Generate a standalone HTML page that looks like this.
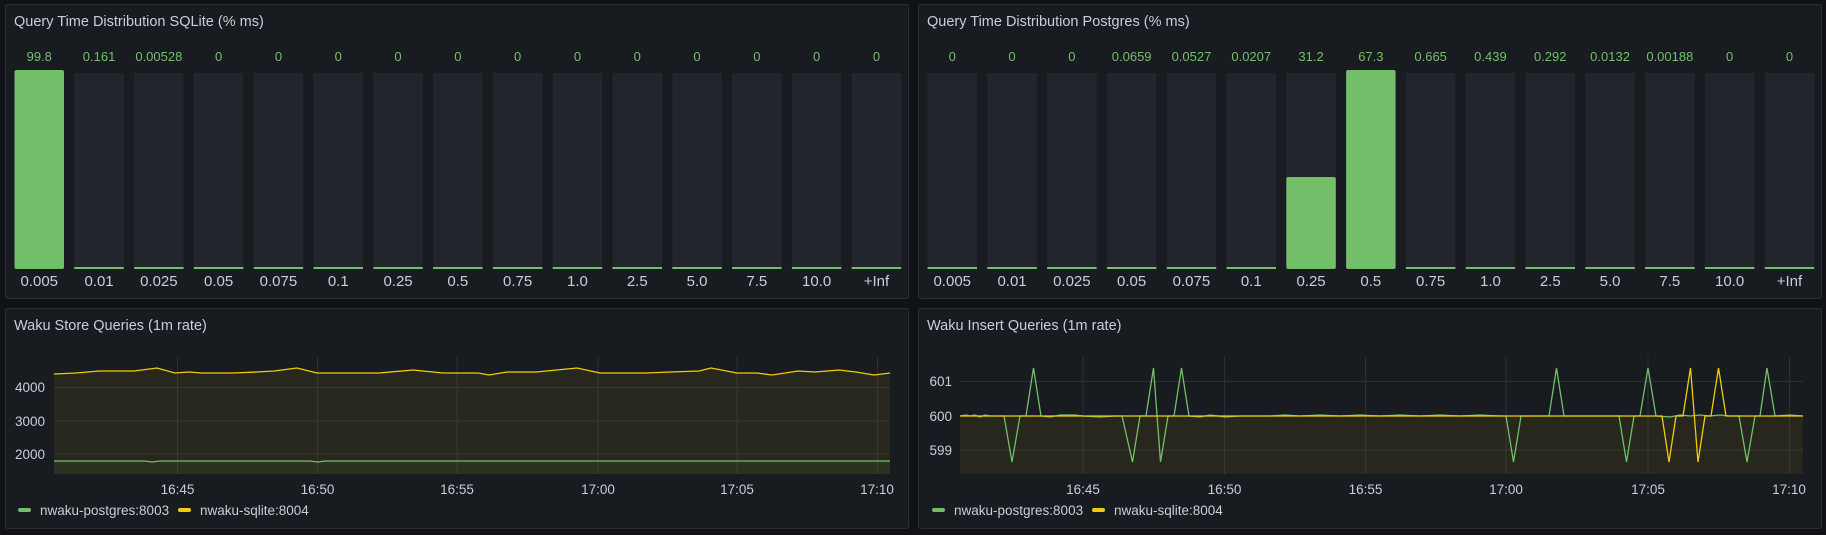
<!DOCTYPE html>
<html><head><meta charset="utf-8"><style>
html,body{margin:0;padding:0;background:#111217;}
svg{display:block;font-family:"Liberation Sans",sans-serif;}
</style></head><body>
<svg width="1826" height="535" viewBox="0 0 1826 535" xmlns="http://www.w3.org/2000/svg">
<rect width="1826" height="535" fill="#111217"/>
<g fill="#181b1f" stroke="#2a2d34" stroke-width="1">
<rect x="5.5" y="4.5" width="903" height="294" rx="2"/>
<rect x="918.5" y="4.5" width="903" height="294" rx="2"/>
<rect x="5.5" y="308.5" width="903" height="220" rx="2"/>
<rect x="918.5" y="308.5" width="903" height="220" rx="2"/>
</g>
<g fill="#ccccdc" font-size="14.5" font-weight="500">
<text x="14" y="26">Query Time Distribution SQLite (% ms)</text>
<text x="927" y="26">Query Time Distribution Postgres (% ms)</text>
<text x="14" y="330">Waku Store Queries (1m rate)</text>
<text x="927" y="330">Waku Insert Queries (1m rate)</text>
</g>
<g id="bars1"></g>
<script>
(function(){
var ns="http://www.w3.org/2000/svg";var svg=document.querySelector('svg');
var labels=["0.005","0.01","0.025","0.05","0.075","0.1","0.25","0.5","0.75","1.0","2.5","5.0","7.5","10.0","+Inf"];
var v1=["99.8","0.161","0.00528","0","0","0","0","0","0","0","0","0","0","0","0"];
var h1=[199,0,0,0,0,0,0,0,0,0,0,0,0,0,0];
var v2=["0","0","0","0.0659","0.0527","0.0207","31.2","67.3","0.665","0.439","0.292","0.0132","0.00188","0","0"];
var h2=[0,0,0,0,0,0,92,199,2,0,0,0,0,0,0];
function el(t,a,txt){var e=document.createElementNS(ns,t);for(var k in a)e.setAttribute(k,a[k]);if(txt!=null)e.textContent=txt;svg.appendChild(e);return e;}
function panel(x0,vals,hs){
for(var i=0;i<15;i++){var x=x0+i*59.8,w=49.5,cx=x+w/2;
el('rect',{x:x,y:73,width:w,height:196,fill:'#22252b'});
if(hs[i]>2){el('rect',{x:x,y:269-hs[i],width:w,height:hs[i],fill:'#73bf69',rx:2});}
else{el('rect',{x:x,y:267,width:w,height:2,fill:'#73bf69'});}
el('text',{x:cx,y:61,'text-anchor':'middle',fill:'#73bf69','font-size':'13'},vals[i]);
el('text',{x:cx,y:286,'text-anchor':'middle',fill:'#ccccdc','font-size':'15'},labels[i]);
}}
panel(14.5,v1,h1);panel(927.5,v2,h2);
})();
</script>
<!-- Panel 3 -->
<g stroke="#2c2f35" stroke-width="1">
<line x1="54" y1="387.5" x2="890" y2="387.5"/><line x1="54" y1="421" x2="890" y2="421"/><line x1="54" y1="454" x2="890" y2="454"/>
<line x1="177.5" y1="357" x2="177.5" y2="474"/><line x1="317.5" y1="357" x2="317.5" y2="474"/><line x1="457" y1="357" x2="457" y2="474"/><line x1="598" y1="357" x2="598" y2="474"/><line x1="737" y1="357" x2="737" y2="474"/><line x1="877.5" y1="357" x2="877.5" y2="474"/>
</g>
<polygon fill="#f2cc0c" fill-opacity="0.07" points="54,374 76,373 99,371 134,371 157,368 175,373 189,372 201,373 233,373 256,372 274,371 297,368 317,373 379,373 413,370 443,373 478,373 489,375 507,372 536,372 577,368 600,373 646,373 670,372 699,371 711,368 737,373 757,373 772,375 798,371 815,372 839,370 856,372 874,375 890,373 890,474 54,474"/>
<polygon fill="#73bf69" fill-opacity="0.07" points="54,461 145,461 152,462 160,461 310,461 318,462 325,461 890,461 890,474 54,474"/>
<polyline fill="none" stroke="#f2cc0c" stroke-width="1.3" points="54,374 76,373 99,371 134,371 157,368 175,373 189,372 201,373 233,373 256,372 274,371 297,368 317,373 379,373 413,370 443,373 478,373 489,375 507,372 536,372 577,368 600,373 646,373 670,372 699,371 711,368 737,373 757,373 772,375 798,371 815,372 839,370 856,372 874,375 890,373"/>
<polyline fill="none" stroke="#73bf69" stroke-width="1.3" points="54,461 145,461 152,462 160,461 310,461 318,462 325,461 890,461"/>
<g fill="#ccccdc" font-size="13.5" text-anchor="end">
<text x="45" y="392">4000</text><text x="45" y="426">3000</text><text x="45" y="459">2000</text>
</g>
<g fill="#ccccdc" font-size="13.5" text-anchor="middle">
<text x="177.5" y="494">16:45</text><text x="317.5" y="494">16:50</text><text x="457" y="494">16:55</text><text x="598" y="494">17:00</text><text x="737" y="494">17:05</text><text x="877" y="494">17:10</text>
</g>
<rect x="18" y="508" width="13" height="4" rx="2" fill="#73bf69"/>
<text x="40" y="515" fill="#ccccdc" font-size="13.5">nwaku-postgres:8003</text>
<rect x="178" y="508" width="13" height="4" rx="2" fill="#f2cc0c"/>
<text x="200" y="515" fill="#ccccdc" font-size="13.5">nwaku-sqlite:8004</text>
<!-- Panel 4 -->
<g stroke="#2c2f35" stroke-width="1">
<line x1="960" y1="381.5" x2="1803" y2="381.5"/><line x1="960" y1="416" x2="1803" y2="416"/><line x1="960" y1="450" x2="1803" y2="450"/>
<line x1="1083" y1="357" x2="1083" y2="474"/><line x1="1224.5" y1="357" x2="1224.5" y2="474"/><line x1="1365.5" y1="357" x2="1365.5" y2="474"/><line x1="1506" y1="357" x2="1506" y2="474"/><line x1="1648" y1="357" x2="1648" y2="474"/><line x1="1789.5" y1="357" x2="1789.5" y2="474"/>
</g>
<rect x="960" y="416" width="843" height="58" fill="#f2cc0c" fill-opacity="0.07"/>
<polyline fill="none" stroke="#73bf69" stroke-width="1.3" points="960,416 966,415 970,416 975,415 980,417 985,415 990,416 998,416 1004,416 1012,462 1020,416 1026,416 1033.5,368 1041,416 1050,417 1060,415 1075,415 1083,416 1100,417 1115,416 1122,416 1132.5,462 1140,416 1146,416 1153.5,368 1160.5,462 1168,416 1174,416 1181.5,368 1189,416 1200,417 1210,415 1225,417 1240,416 1270,416 1285,415 1300,416 1320,415 1340,416 1360,415 1380,416 1400,415 1420,416 1440,415 1460,416 1480,415 1500,416 1506,416 1513.5,462 1521,416 1530,416 1540,416 1549,416 1556.5,368 1564,416 1580,416 1600,416 1619,416 1626.5,462 1634,416 1640,416 1648,368 1656,416 1670,417 1680,415 1690,416 1700,415 1710,416 1720,415 1730,416 1739,416 1747,462 1755,416 1760,416 1767,368 1775,416 1790,415 1803,416"/>
<polyline fill="none" stroke="#f2cc0c" stroke-width="1.3" points="960,416 1662,416 1669,462 1676,416 1683,416 1690.5,368 1698,462 1705,416 1711,416 1718.5,368 1726,416 1803,416"/>
<g fill="#ccccdc" font-size="13.5" text-anchor="end">
<text x="952" y="386">601</text><text x="952" y="421">600</text><text x="952" y="455">599</text>
</g>
<g fill="#ccccdc" font-size="13.5" text-anchor="middle">
<text x="1083" y="494">16:45</text><text x="1224.5" y="494">16:50</text><text x="1365.5" y="494">16:55</text><text x="1506" y="494">17:00</text><text x="1648" y="494">17:05</text><text x="1789" y="494">17:10</text>
</g>
<rect x="932" y="508" width="13" height="4" rx="2" fill="#73bf69"/>
<text x="954" y="515" fill="#ccccdc" font-size="13.5">nwaku-postgres:8003</text>
<rect x="1092" y="508" width="13" height="4" rx="2" fill="#f2cc0c"/>
<text x="1114" y="515" fill="#ccccdc" font-size="13.5">nwaku-sqlite:8004</text>
</svg>
</body></html>
